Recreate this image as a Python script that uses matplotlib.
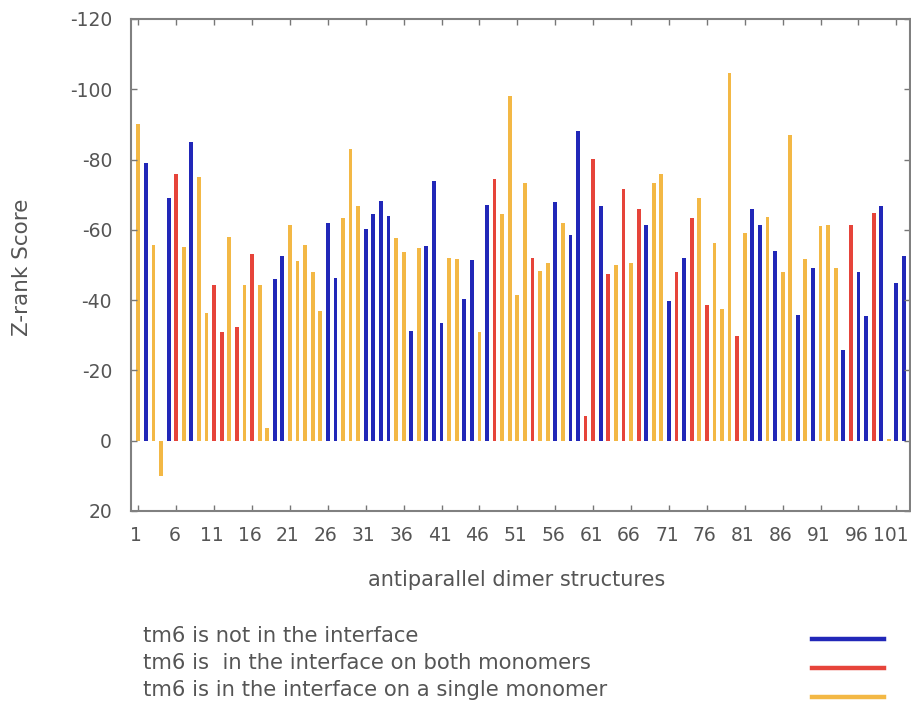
import matplotlib
matplotlib.use("Agg")
import matplotlib.pyplot as plt
from matplotlib.lines import Line2D
from matplotlib.transforms import ScaledTranslation
import numpy as np

plt.rcParams["axes.unicode_minus"] = False
plt.rcParams["font.family"] = ["DejaVu Sans"]

# Z-rank score of each antiparallel dimer structure (1..102)
scores = [
    -90, -79, -55.8, 10, -69, -76, -55, -85, -75, -36.4,
    -44.4, -31, -58, -32.4, -44.4, -53, -44.4, -3.6, -46, -52.5,
    -61.5, -51, -55.8, -48, -36.8, -62, -46.3, -63.4, -82.9, -66.8,
    -60.3, -64.4, -68.2, -63.9, -57.7, -53.6, -31.1, -54.9, -55.4, -73.9,
    -33.5, -52, -51.6, -40.2, -51.4, -31, -67.2, -74.6, -64.4, -98.1,
    -41.6, -73.2, -52, -48.2, -50.6, -67.9, -62, -58.4, -88.1, -7.1,
    -80.2, -66.9, -47.3, -50.1, -71.7, -50.6, -65.8, -61.3, -73.2, -75.8,
    -39.7, -48, -52, -63.4, -69.1, -38.7, -56.3, -37.5, -104.7, -29.7,
    -59, -66, -61.3, -63.7, -53.9, -48, -86.9, -35.9, -51.6, -49.2,
    -61.1, -61.5, -49.2, -25.9, -61.3, -48, -35.4, -64.7, -66.9, -0.5,
    -44.9, -52.5,
]

# tm6 location per structure: N = not in interface, B = both monomers,
# S = single monomer
groups = (
    "SNSSNBSNSS"
    "BBSBSBSSNN"
    "SSSSSNNSSS"
    "NNNNSSNSNN"
    "NSSNNSNBSS"
    "SSBSSNSNNB"
    "BNBSBSBNSS"
    "NBNBSBSSSB"
    "SNNSNSSNSN"
    "SSSNBNNBNS"
    "NN"
)
group_colors = {"N": "#2127b8", "B": "#e6443a", "S": "#f3b845"}
legend_labels = [
    ("tm6 is not in the interface", "N"),
    ("tm6 is  in the interface on both monomers", "B"),
    ("tm6 is in the interface on a single monomer", "S"),
]

structures = np.arange(1, len(scores) + 1)
xticks = list(range(1, 102, 5))
yticks = [-120, -100, -80, -60, -40, -20, 0, 20]

text_color = "#555555"

fig = plt.figure(figsize=(9.12, 7.13), dpi=100)
ax = fig.add_axes([131.5 / 912, 1 - 511 / 713, (910 - 131.5) / 912, (511 - 19) / 713])

colors = [group_colors[g] for g in groups]
ax.bar(structures, scores, width=0.5, color=colors, linewidth=0)

ax.set_xlim(0.1, 102.8)
ax.set_ylim(20, -120)
ax.set_xticks(xticks)
ax.set_yticks(yticks)
ax.tick_params(direction="in", length=4, width=1, colors="#777777",
               labelcolor=text_color, labelsize=13.5,
               top=True, right=True)
ax.tick_params(axis="x", pad=11)
ax.tick_params(axis="y", pad=14)
for s in ax.spines.values():
    s.set_color("#808080")
    s.set_linewidth(1.5)

# nudge x tick labels slightly left; the last one more so it stays inside
fig.canvas.draw()
xlabels = ax.get_xticklabels()
for i, lab in enumerate(xlabels):
    shift = -6 if i == len(xlabels) - 1 else -2
    lab.set_transform(lab.get_transform()
                      + ScaledTranslation(shift / 100, 0, fig.dpi_scale_trans))

fig.text(517 / 912, 1 - 580 / 713, "antiparallel dimer structures",
         fontsize=15, color=text_color, ha="center", va="center")
fig.text(22 / 912, 1 - 267 / 713, "Z-rank Score", fontsize=15.5,
         color=text_color, ha="center", va="center", rotation=90)

# legend block below the plot
text_rows = [636, 663, 690]
line_rows = [639, 668, 697]
for (label, key), ty, ly in zip(legend_labels, text_rows, line_rows):
    fig.text(143 / 912, 1 - ty / 713, label, fontsize=15.2, color=text_color,
             va="center", ha="left")
    fig.add_artist(Line2D([812 / 912, 884 / 912], [1 - ly / 713, 1 - ly / 713],
                          color=group_colors[key], linewidth=3.2,
                          transform=fig.transFigure))

fig.savefig("out.png", dpi=100)
